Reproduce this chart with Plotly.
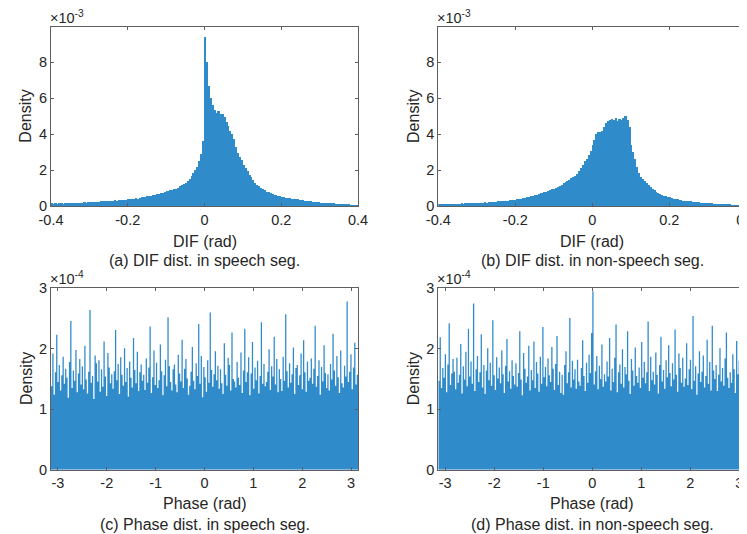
import numpy as np
import plotly.graph_objects as go

# ---------------- data ----------------
# DIF histograms: bins of 0.005 rad starting at -0.4 rad, density in units of 1e-3
DIF_START = -0.4
DIF_BIN = 0.005
dif_speech_e3 = [
    0.16, 0.14, 0.17, 0.15, 0.16, 0.18, 0.15, 0.17, 0.19, 0.17,
    0.18, 0.20, 0.18, 0.19, 0.21, 0.20, 0.19, 0.22, 0.21, 0.23,
    0.22, 0.24, 0.23, 0.25, 0.26, 0.24, 0.27, 0.28, 0.27, 0.29,
    0.30, 0.29, 0.31, 0.33, 0.32, 0.34, 0.33, 0.36, 0.35, 0.37,
    0.38, 0.40, 0.39, 0.42, 0.44, 0.43, 0.47, 0.50, 0.49, 0.53,
    0.55, 0.57, 0.56, 0.61, 0.64, 0.66, 0.70, 0.72, 0.76, 0.80,
    0.84, 0.85, 0.90, 0.93, 0.96, 0.98, 1.02, 1.10, 1.16, 1.24,
    1.32, 1.42, 1.53, 1.70, 1.85, 2.00, 2.20, 2.50, 2.90, 3.60,
    9.40, 8.00, 6.70, 6.00, 5.60, 5.35, 5.20, 5.30, 5.10, 5.15,
    4.95, 4.70, 4.45, 4.20, 4.00, 3.75, 3.30, 2.95, 2.75, 2.55,
    2.30, 2.15, 1.95, 1.75, 1.60, 1.45, 1.32, 1.20, 1.10, 1.02,
    0.95, 0.88, 0.82, 0.78, 0.72, 0.68, 0.64, 0.60, 0.58, 0.56,
    0.54, 0.51, 0.48, 0.46, 0.44, 0.42, 0.41, 0.39, 0.38, 0.36,
    0.35, 0.33, 0.31, 0.30, 0.28, 0.27, 0.26, 0.25, 0.23, 0.22,
    0.21, 0.20, 0.19, 0.19, 0.18, 0.17, 0.16, 0.16, 0.15, 0.14,
    0.14, 0.13, 0.12, 0.12, 0.11, 0.11, 0.10, 0.10, 0.09, 0.09,
]
dif_nonspeech_e3 = [
    0.13, 0.12, 0.14, 0.13, 0.12, 0.14, 0.13, 0.15, 0.14, 0.13,
    0.15, 0.14, 0.16, 0.15, 0.17, 0.16, 0.17, 0.18, 0.17, 0.19,
    0.19, 0.20, 0.19, 0.21, 0.22, 0.21, 0.23, 0.24, 0.23, 0.25,
    0.26, 0.27, 0.28, 0.27, 0.30, 0.31, 0.32, 0.33, 0.35, 0.36,
    0.37, 0.39, 0.41, 0.43, 0.45, 0.47, 0.50, 0.53, 0.55, 0.58,
    0.62, 0.65, 0.68, 0.72, 0.74, 0.78, 0.82, 0.86, 0.90, 0.95,
    0.98, 1.03, 1.08, 1.14, 1.20, 1.27, 1.33, 1.40, 1.48, 1.55,
    1.60, 1.70, 1.82, 1.95, 2.10, 2.30, 2.50, 2.65, 2.85, 3.05,
    3.40, 3.70, 4.00, 4.10, 4.15, 4.20, 4.40, 4.65, 4.75, 4.80,
    4.85, 4.80, 4.90, 4.75, 4.85, 4.80, 4.90, 5.00, 4.80, 4.40,
    3.40, 3.00, 2.65, 2.20, 1.85, 1.62, 1.50, 1.40, 1.30, 1.18,
    1.08, 0.98, 0.88, 0.80, 0.74, 0.68, 0.63, 0.59, 0.55, 0.52,
    0.49, 0.46, 0.43, 0.40, 0.38, 0.36, 0.34, 0.32, 0.30, 0.29,
    0.28, 0.27, 0.25, 0.24, 0.23, 0.22, 0.21, 0.20, 0.19, 0.18,
    0.17, 0.17, 0.16, 0.15, 0.15, 0.14, 0.13, 0.13, 0.12, 0.12,
    0.11, 0.11, 0.10, 0.10, 0.09, 0.09, 0.08, 0.08, 0.07, 0.07,
]

# Phase histograms: 240 equal bins over [-pi, pi], density in units of 1e-4
PHASE_NBINS = 240
phase_speech_e4 = [
    1.38, 1.92, 1.24, 1.61, 2.23, 1.45, 1.73, 1.31, 1.56, 1.87, 1.42, 1.67,
    1.52, 1.19, 1.78, 2.46, 1.35, 1.64, 1.47, 1.98, 1.28, 1.59, 1.83, 1.41,
    1.71, 1.33, 2.05, 1.49, 1.26, 1.62, 2.64, 1.44, 1.55, 1.17, 1.89, 1.76,
    1.46, 1.81, 1.29, 1.66, 1.37, 2.12, 1.54, 1.22, 1.93, 1.69, 1.43, 1.58,
    1.34, 1.63, 2.31, 1.48, 1.75, 1.25, 1.86, 1.57, 1.39, 2.01, 1.45, 1.68,
    1.21, 1.79, 1.52, 1.36, 2.18, 1.65, 1.43, 1.95, 1.30, 1.61, 1.74, 1.47,
    1.57, 1.32, 1.84, 1.44, 1.69, 2.37, 1.27, 1.53, 1.97, 1.40, 1.77, 1.35,
    1.48, 2.07, 1.63, 1.23, 1.56, 1.82, 1.38, 2.52, 1.71, 1.45, 1.31, 1.66,
    1.74, 1.41, 1.28, 1.90, 1.59, 1.46, 2.15, 1.35, 1.67, 1.83, 1.51, 1.24,
    1.39, 1.62, 2.03, 1.47, 1.33, 1.76, 1.55, 2.41, 1.42, 1.88, 1.20, 1.70,
    1.53, 1.29, 1.81, 1.44, 2.60, 1.65, 1.37, 1.58, 1.96, 1.48, 1.72, 1.34,
    1.66, 1.43, 1.25, 2.09, 1.57, 1.39, 1.85, 1.73, 1.31, 2.27, 1.50, 1.46,
    1.36, 1.78, 1.52, 1.40, 1.94, 1.27, 1.64, 2.33, 1.45, 1.61, 1.86, 1.23,
    1.59, 2.11, 1.34, 1.69, 1.48, 1.80, 1.26, 1.55, 2.44, 1.42, 1.75, 1.38,
    1.45, 1.62, 1.99, 1.32, 1.71, 1.54, 2.20, 1.41, 1.83, 1.28, 1.66, 1.50,
    1.30, 1.87, 1.47, 2.57, 1.63, 1.36, 1.76, 1.44, 1.58, 2.02, 1.25, 1.68,
    1.73, 1.40, 1.56, 1.92, 1.33, 2.14, 1.61, 1.29, 1.79, 1.47, 1.52, 1.84,
    1.42, 1.67, 2.38, 1.37, 1.55, 1.81, 1.24, 1.70, 1.46, 2.06, 1.60, 1.35,
    1.58, 1.31, 1.75, 1.49, 2.25, 1.64, 1.39, 1.88, 1.53, 1.27, 1.97, 1.43,
    1.36, 1.72, 1.54, 2.78, 1.45, 1.62, 1.91, 1.33, 1.69, 2.10, 1.41, 1.57,
]
phase_nonspeech_e4 = [
    1.47, 2.19, 1.35, 1.68, 1.52, 1.91, 1.28, 1.74, 2.42, 1.40, 1.59, 1.83,
    1.62, 1.33, 1.85, 1.44, 1.57, 2.08, 1.26, 1.71, 1.49, 1.95, 1.38, 2.33,
    1.54, 1.79, 1.42, 2.75, 1.30, 1.66, 1.88, 1.45, 1.61, 2.24, 1.36, 1.73,
    1.25, 1.64, 2.01, 1.48, 1.77, 1.39, 2.47, 1.56, 1.32, 1.86, 1.51, 1.69,
    1.43, 1.97, 1.58, 1.27, 1.72, 2.16, 1.46, 1.63, 1.34, 1.81, 1.55, 1.41,
    1.76, 1.37, 1.60, 2.29, 1.49, 1.23, 1.93, 1.67, 1.44, 1.54, 2.05, 1.31,
    1.65, 1.48, 2.12, 1.35, 1.78, 1.59, 1.29, 1.87, 1.42, 2.36, 1.53, 1.70,
    1.38, 1.84, 1.56, 1.45, 2.03, 1.67, 1.32, 1.75, 2.21, 1.40, 1.62, 1.27,
    1.57, 1.24, 1.73, 1.96, 1.43, 1.61, 2.51, 1.36, 1.80, 1.49, 1.66, 1.34,
    1.82, 1.46, 1.39, 1.68, 2.14, 1.55, 1.30, 1.77, 1.44, 1.90, 1.60, 2.26,
    2.95, 1.41, 1.63, 1.88, 1.33, 1.72, 1.50, 2.07, 1.37, 1.58, 1.46, 1.79,
    1.54, 2.18, 1.31, 1.67, 1.45, 1.85, 2.40, 1.28, 1.61, 1.74, 1.42, 1.99,
    1.36, 1.70, 1.58, 2.29, 1.47, 1.25, 1.83, 1.64, 1.39, 2.02, 1.55, 1.44,
    1.69, 1.35, 2.11, 1.52, 1.78, 1.43, 1.61, 2.45, 1.30, 1.87, 1.48, 1.62,
    1.41, 1.94, 1.57, 1.26, 1.73, 2.20, 1.46, 1.65, 1.34, 1.81, 1.53, 2.06,
    1.60, 1.38, 1.76, 1.49, 2.32, 1.57, 1.29, 1.92, 1.68, 1.44, 1.85, 1.37,
    1.51, 2.09, 1.40, 1.66, 1.82, 1.33, 2.54, 1.47, 1.71, 1.24, 1.59, 1.96,
    1.45, 1.62, 1.89, 1.36, 1.55, 2.15, 1.42, 1.78, 1.31, 2.38, 1.64, 1.50,
    1.73, 1.30, 1.57, 2.01, 1.46, 1.68, 1.39, 1.84, 2.27, 1.52, 1.35, 1.61,
    1.44, 1.91, 1.66, 1.27, 2.13, 1.58, 1.80, 1.37, 1.70, 2.43, 1.49, 1.56,
]

dif_ticks = [-0.4, -0.2, 0, 0.2, 0.4]
dif_tick_labels = ["-0.4", "-0.2", "0", "0.2", "0.4"]
dif_y_ticks = [0, 2, 4, 6, 8]
phase_ticks = [-3, -2, -1, 0, 1, 2, 3]
phase_tick_labels = ["-3", "-2", "-1", "0", "1", "2", "3"]
phase_y_ticks = [0, 1, 2, 3]

captions = [
    "(a) DIF dist. in speech seg.",
    "(b) DIF dist. in non-speech seg.",
    "(c) Phase dist. in speech seg.",
    "(d) Phase dist. in non-speech seg.",
]

# ---------------- figure ----------------
W, H = 747, 534
BLUE = "rgb(48,139,202)"
AXC = "rgb(95,95,95)"
TXT = "rgb(38,38,38)"
FONT = "Arial, Liberation Sans, sans-serif"

dif_centers = DIF_START + DIF_BIN * (np.arange(len(dif_speech_e3)) + 0.5)
ph_w = 2 * np.pi / PHASE_NBINS
ph_edges = -np.pi + ph_w * np.arange(PHASE_NBINS + 1)

fig = go.Figure()
for ys, xa, ya in [(dif_speech_e3, "x", "y"), (dif_nonspeech_e3, "x2", "y2")]:
    fig.add_trace(go.Bar(x=dif_centers, y=ys, width=DIF_BIN, xaxis=xa, yaxis=ya,
                         marker=dict(color=BLUE, line=dict(width=0)),
                         showlegend=False, hoverinfo="skip"))
# phase histograms drawn as filled stairs (one step per bin)
for ys, xa, ya in [(phase_speech_e4, "x3", "y3"), (phase_nonspeech_e4, "x4", "y4")]:
    yy = list(ys) + [ys[-1]]
    fig.add_trace(go.Scatter(x=ph_edges, y=yy, mode="lines", line_shape="hv",
                             line=dict(width=0, color=BLUE), fill="tozeroy",
                             fillcolor=BLUE, xaxis=xa, yaxis=ya,
                             showlegend=False, hoverinfo="skip"))

def px_x(p):
    return p / W

def px_y(p):
    return 1 - p / H

L1, R1 = 43, 350
L2, R2 = 430.3, 738.3
T1, B1 = 19, 198.3
T2, B2 = 280.3, 461.7

axis_common = dict(showline=True, linecolor=AXC, linewidth=1, mirror="ticks",
                   ticks="inside", ticklen=3, tickcolor=AXC, showgrid=False,
                   zeroline=False, automargin=False, layer="above traces",
                   ticklabeloverflow="allow",
                   tickfont=dict(family=FONT, size=14.5, color=TXT))

layout = dict(width=W, height=H, margin=dict(l=0, r=0, t=0, b=0),
              paper_bgcolor="white", plot_bgcolor="white", bargap=0,
              font=dict(family=FONT, color=TXT), showlegend=False)

xdefs = [
    ("xaxis", "y", [px_x(L1), px_x(R1)], [-0.4, 0.4], dif_ticks, dif_tick_labels),
    ("xaxis2", "y2", [px_x(L2), px_x(R2)], [-0.4, 0.4], dif_ticks, dif_tick_labels),
    ("xaxis3", "y3", [px_x(L1), px_x(R1)], [-np.pi, np.pi], phase_ticks, phase_tick_labels),
    ("xaxis4", "y4", [px_x(L2), px_x(R2)], [-np.pi, np.pi], phase_ticks, phase_tick_labels),
]
ydefs = [
    ("yaxis", "x", [px_y(B1), px_y(T1)], [0, 9.95], dif_y_ticks),
    ("yaxis2", "x2", [px_y(B1), px_y(T1)], [0, 9.95], dif_y_ticks),
    ("yaxis3", "x3", [px_y(B2), px_y(T2)], [0, 3], phase_y_ticks),
    ("yaxis4", "x4", [px_y(B2), px_y(T2)], [0, 3], phase_y_ticks),
]
for name, anchor, dom, rng, tv, tt in xdefs:
    layout[name] = dict(axis_common, domain=dom, range=rng, anchor=anchor,
                        tickvals=tv, ticktext=tt)
for name, anchor, dom, rng, tv in ydefs:
    layout[name] = dict(axis_common, domain=dom, range=rng, anchor=anchor,
                        tickvals=tv, ticktext=[str(v) for v in tv])
fig.update_layout(**layout)

ann = []
LBL = 16
panels = [
    (L1, R1, T1, B1, "DIF (rad)", "-3", 233, 253),
    (L2, R2, T1, B1, "DIF (rad)", "-3", 233, 253),
    (L1, R1, T2, B2, "Phase (rad)", "-4", 495, 516.7),
    (L2, R2, T2, B2, "Phase (rad)", "-4", 495, 516.7),
]
for i, (l, r, t, b, xl, ex, yl, yc) in enumerate(panels):
    cx = px_x((l + r) / 2)
    ann.append(dict(text=xl, x=cx, y=px_y(yl), xref="paper", yref="paper",
                    xanchor="center", yanchor="middle", showarrow=False,
                    font=dict(size=LBL, family=FONT, color=TXT)))
    ann.append(dict(text=captions[i], x=cx, y=px_y(yc), xref="paper", yref="paper",
                    xanchor="center", yanchor="middle", showarrow=False,
                    font=dict(size=LBL, family=FONT, color=TXT)))
    ann.append(dict(text="Density", x=px_x(l - 25), y=px_y((t + b) / 2),
                    xref="paper", yref="paper", xanchor="center", yanchor="middle",
                    textangle=-90, showarrow=False,
                    font=dict(size=LBL, family=FONT, color=TXT)))
    ann.append(dict(text="\u00d710<sup>" + ex + "</sup>", x=px_x(l - 2), y=px_y(t),
                    xref="paper", yref="paper", xanchor="left", yanchor="bottom",
                    borderpad=0, showarrow=False,
                    font=dict(size=14.5, family=FONT, color=TXT)))
fig.update_layout(annotations=ann)

fig.write_html("out.html")
